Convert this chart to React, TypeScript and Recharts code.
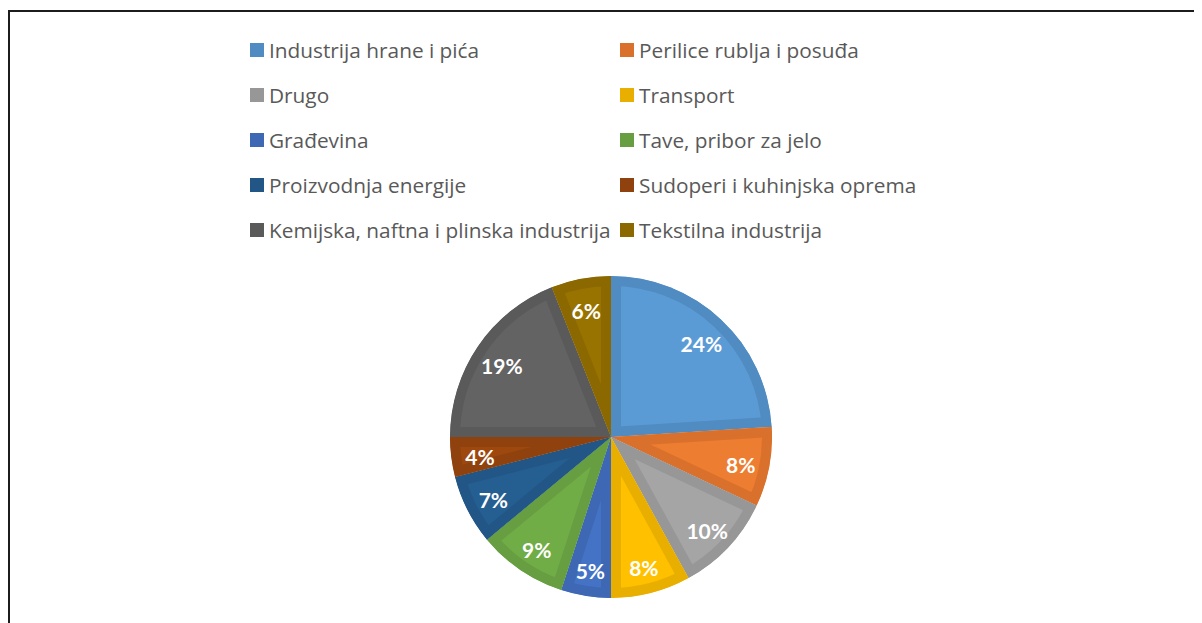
import { PieChart, Pie, Cell, Legend } from 'recharts'

const categories = [
  'Industrija hrane i pića',
  'Perilice rublja i posuđa',
  'Drugo',
  'Transport',
  'Građevina',
  'Tave, pribor za jelo',
  'Proizvodnja energije',
  'Sudoperi i kuhinjska oprema',
  'Kemijska, naftna i plinska industrija',
  'Tekstilna industrija',
]

const shares = [24, 8, 10, 8, 5, 9, 7, 4, 19, 6]

const fills = ['#5b9bd5', '#ed7d31', '#a5a5a5', '#ffc000', '#4472c4', '#70ad47', '#255e91', '#9e480e', '#636363', '#997300']
const edges = ['#508bc2', '#d9712c', '#979797', '#e8af00', '#3e68b4', '#669e41', '#225686', '#8f420d', '#5a5a5a', '#8c6900']

const data = categories.map((name, i) => ({ name, value: shares[i] }))

const RAD = Math.PI / 180

function pt(cx: number, cy: number, r: number, a: number) {
  return [cx + r * Math.cos(-a * RAD), cy + r * Math.sin(-a * RAD)]
}

function sectorPath(cx: number, cy: number, r: number, a0: number, a1: number) {
  const [x0, y0] = pt(cx, cy, r, a0)
  const [x1, y1] = pt(cx, cy, r, a1)
  const large = Math.abs(a1 - a0) > 180 ? 1 : 0
  const sweep = a0 > a1 ? 1 : 0
  return `M${cx},${cy} L${x0},${y0} A${r},${r} 0 ${large} ${sweep} ${x1},${y1} Z`
}

// slice with a darker inner band, like Excel's inner shadow style
function renderSlice(props: any) {
  const { cx, cy, outerRadius, startAngle, endAngle, index } = props
  const d = sectorPath(cx, cy, outerRadius, startAngle, endAngle)
  const id = `slice-clip-${index}`
  return (
    <g>
      <defs>
        <clipPath id={id}>
          <path d={d} />
        </clipPath>
      </defs>
      <path d={d} fill={fills[index]} stroke={edges[index]} strokeWidth={20} clipPath={`url(#${id})`} />
    </g>
  )
}

function renderLabel(props: any) {
  const { cx, cy, midAngle, outerRadius, percent } = props
  const [x, y] = pt(cx, cy, outerRadius * 0.82, midAngle)
  return (
    <text
      x={x}
      y={y + 3}
      fill="#ffffff"
      textAnchor="middle"
      dominantBaseline="central"
      style={{ fontFamily: 'Lato', fontWeight: 700, fontSize: 21 }}
    >
      {`${Math.round(percent * 100)}%`}
    </text>
  )
}

function renderLegend() {
  return (
    <div
      style={{
        display: 'grid',
        gridTemplateColumns: '370px 300px',
        gridAutoRows: '45px',
        fontFamily: 'Open Sans',
        fontSize: 20.8,
        color: '#595959',
      }}
    >
      {categories.map((c, i) => (
        <div key={c} style={{ display: 'flex', alignItems: 'center', whiteSpace: 'nowrap' }}>
          <span style={{ width: 14, height: 14, background: edges[i], marginRight: 5, flex: 'none' }} />
          {c}
        </div>
      ))}
    </div>
  )
}

export default function App() {
  return (
    <div style={{ position: 'relative', width: 1194, height: 615, overflow: 'hidden', background: '#fff' }}>
      <div
        style={{
          position: 'absolute',
          left: 0,
          top: 2,
          width: 1210,
          height: 640,
          borderTop: '2px solid #1c1c1c',
          borderLeft: '2px solid #1c1c1c',
        }}
      />
      <PieChart width={1194} height={615} margin={{ top: 0, right: 0, bottom: 0, left: 0 }}>
        <Legend
          layout="horizontal"
          verticalAlign="middle"
          align="center"
          content={renderLegend}
          wrapperStyle={{ top: 19, left: 242, width: 680, height: 230 }}
        />
        <Pie
          data={data}
          dataKey="value"
          nameKey="name"
          cx={603}
          cy={429}
          outerRadius={161}
          startAngle={90}
          endAngle={-270}
          stroke="none"
          shape={renderSlice}
          label={renderLabel}
          labelLine={false}
          isAnimationActive={false}
        >
          {data.map((d, i) => (
            <Cell key={d.name} fill={fills[i]} />
          ))}
        </Pie>
      </PieChart>
    </div>
  )
}
